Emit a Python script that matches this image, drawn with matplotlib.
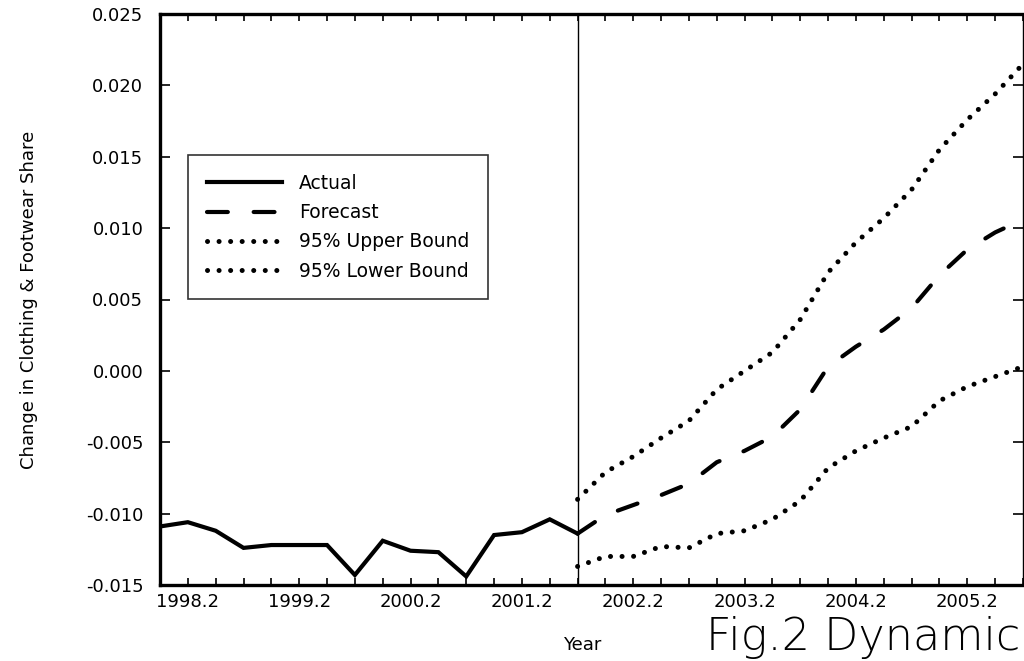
import matplotlib.pyplot as plt

# quarterly index: 0 = 1998.1 ... 31 = 2005.4
actual = [-0.0109, -0.0106, -0.0112, -0.0124, -0.0122, -0.0122, -0.0122, -0.0143,
          -0.0119, -0.0126, -0.0127, -0.0144, -0.0115, -0.0113, -0.0104, -0.0114]
forecast = [-0.0114, -0.0101, -0.0094, -0.0087, -0.0079, -0.0064, -0.0056, -0.0046,
            -0.0027, 0.0003, 0.0017, 0.0029, 0.0044, 0.0067, 0.0085, 0.0097, 0.0106]
upper = [-0.0090, -0.0071, -0.0060, -0.0047, -0.0035, -0.0013, 0.0000, 0.0013,
         0.0036, 0.0069, 0.0090, 0.0107, 0.0127, 0.0155, 0.0176, 0.0194, 0.0215]
lower = [-0.0137, -0.0130, -0.0130, -0.0123, -0.0124, -0.0114, -0.0112, -0.0104,
         -0.0091, -0.0068, -0.0056, -0.0047, -0.0039, -0.0021, -0.0011, -0.0004, 0.0003]

tick_labels = ['1998.2', '1999.2', '2000.2', '2001.2', '2002.2', '2003.2', '2004.2', '2005.2']
label_idx = [1, 5, 9, 13, 17, 21, 25, 29]
n_quarters = 32

x_act = list(range(len(actual)))
x_fc = list(range(len(actual) - 1, len(actual) - 1 + len(forecast)))

fig = plt.figure(figsize=(10.24, 6.61), dpi=100)
ax = fig.add_axes([160 / 1024, 76 / 661, 863 / 1024, 571 / 661])

ax.plot(x_act, actual, color='black', lw=3, solid_joinstyle='miter', label='Actual')
ax.plot(x_fc, forecast, color='black', lw=3, dashes=(5, 6.2), dash_capstyle='round',
        label='Forecast')
ax.plot(x_fc, upper, color='black', lw=3.6, dashes=(0.01, 2.3), dash_capstyle='round',
        label='95% Upper Bound')
ax.plot(x_fc, lower, color='black', lw=3.6, dashes=(0.01, 2.3), dash_capstyle='round',
        label='95% Lower Bound')
ax.axvline(len(actual) - 1, color='black', lw=1)

ax.set_xlim(0, n_quarters - 1)
ax.set_ylim(-0.015, 0.025)

xt = list(range(n_quarters))
xl = [''] * n_quarters
for i, lab in zip(label_idx, tick_labels):
    xl[i] = lab
ax.set_xticks(xt)
ax.set_xticklabels(xl)
ax.set_yticks([-0.015 + 0.005 * k for k in range(9)])
ax.yaxis.set_major_formatter(plt.FormatStrFormatter('%.3f'))

ax.tick_params(axis='x', direction='in', top=True, length=5, width=1.2, labelsize=13, pad=6)
ax.tick_params(axis='y', direction='in', right=True, length=7, width=1.2, labelsize=13, pad=12)

for s in ['left', 'top', 'bottom']:
    ax.spines[s].set_linewidth(2.4)
ax.spines['right'].set_linewidth(1)

ax.set_ylabel('Change in Clothing & Footwear Share', fontsize=13, labelpad=34)

leg = ax.legend(loc='upper left', bbox_to_anchor=(0.033, 0.753), borderaxespad=0,
                fancybox=False, edgecolor='black', fontsize=13.5, handlelength=4.0,
                labelspacing=0.55, borderpad=1.0, handletextpad=0.9)
leg.get_frame().set_linewidth(1.2)

fig.text(563 / 1024, 11 / 661, 'Year', fontsize=13, ha='left', va='baseline')
fig.text(1020 / 1024, 11 / 661, 'Fig.2 Dynamic', fontsize=32, ha='right', va='baseline',
         fontweight='light')

fig.savefig('out.png', dpi=100)
